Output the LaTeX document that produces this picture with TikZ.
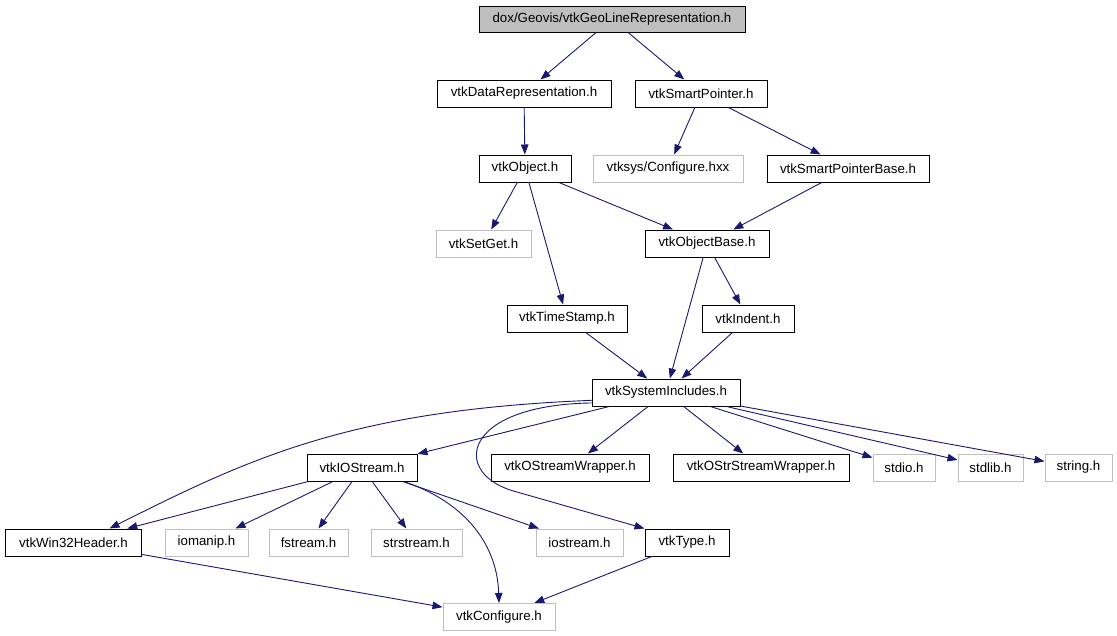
\documentclass[tikz,border=0pt]{standalone}
\usepackage{fontspec}
\setmainfont{Liberation Sans}
\usepackage{tikz}
\usetikzlibrary{arrows,arrows.meta}
\usepackage{xcolor}
\usetikzlibrary{shapes}
\usetikzlibrary{calc}
\definecolor{edgeblue}{RGB}{25,25,112}
\definecolor{sysgray}{RGB}{191,191,191}
\tikzstyle{hdr}=[draw=black,line width=1pt,rectangle,minimum height=27pt,inner sep=0pt,font=\fontsize{13.3}{16}\selectfont]
\tikzstyle{syshdr}=[hdr,draw=sysgray]
\tikzstyle{roothdr}=[hdr,fill=sysgray]
\tikzstyle{dep}=[draw=edgeblue,line width=0.9pt,-{Triangle[length=10pt,width=7.5pt]}]

\begin{document}
\begin{tikzpicture}[x=1pt,y=-1pt]
	\useasboundingbox (0,0) rectangle (1117,635);
	% headers, row by row
	\node[roothdr,minimum width=266pt,minimum height=26pt] (root) at (612,19) {dox/Geovis/vtkGeoLineRepresentation.h};
	\node[hdr,minimum width=174pt] (datarep) at (524,93.5) {vtkDataRepresentation.h};
	\node[hdr,minimum width=132pt] (smartptr) at (701,93.5) {vtkSmartPointer.h};
	\node[hdr,minimum width=92pt] (object) at (525,168.5) {vtkObject.h};
	\node[syshdr,minimum width=150pt] (syscfg) at (668,168.5) {vtksys/Configure.hxx};
	\node[hdr,minimum width=162pt] (smartbase) at (848,168.5) {vtkSmartPointerBase.h};
	\node[syshdr,minimum width=95pt] (setget) at (483.5,243.5) {vtkSetGet.h};
	\node[hdr,minimum width=124pt] (objbase) at (707,243.5) {vtkObjectBase.h};
	\node[hdr,minimum width=120pt] (timestamp) at (567,318.5) {vtkTimeStamp.h};
	\node[hdr,minimum width=92pt] (indent) at (748,318.5) {vtkIndent.h};
	\node[hdr,minimum width=148pt] (sysinc) at (666,392.5) {vtkSystemIncludes.h};
	\node[hdr,minimum width=110pt] (iostreamh) at (362,467.5) {vtkIOStream.h};
	\node[hdr,minimum width=158pt] (ostreamw) at (570,467.5) {vtkOStreamWrapper.h};
	\node[hdr,minimum width=176pt] (ostrstreamw) at (761,467.5) {vtkOStrStreamWrapper.h};
	\node[syshdr,minimum width=62pt] (stdio) at (904,467.5) {stdio.h};
	\node[syshdr,minimum width=65pt] (stdlib) at (990.5,467.5) {stdlib.h};
	\node[syshdr,minimum width=67pt] (string) at (1078.5,467.5) {string.h};
	\node[hdr,minimum width=136pt] (win32) at (73.5,542.5) {vtkWin32Header.h};
	\node[syshdr,minimum width=83pt] (iomanip) at (206.5,542.5) {iomanip.h};
	\node[syshdr,minimum width=79pt] (fstream) at (308.5,542.5) {fstream.h};
	\node[syshdr,minimum width=91pt] (strstream) at (416.5,542.5) {strstream.h};
	\node[syshdr,minimum width=87pt] (iostream) at (579.5,542.5) {iostream.h};
	\node[hdr,minimum width=84pt] (type) at (687,542.5) {vtkType.h};
	\node[syshdr,minimum width=112pt] (configure) at (499,617) {vtkConfigure.h};
	% include edges
	\draw[dep] (root) -- (datarep);
	\draw[dep] (root) -- (smartptr);
	\draw[dep] (datarep) -- (object);
	\draw[dep] (smartptr) -- (syscfg);
	\draw[dep] (smartptr) -- (smartbase);
	\draw[dep] (object) -- (setget);
	\draw[dep] (object) -- (timestamp);
	\draw[dep] (object) -- (objbase);
	\draw[dep] (smartbase) -- (objbase);
	\draw[dep] (objbase) -- (sysinc);
	\draw[dep] (objbase) -- (indent);
	\draw[dep] (timestamp) -- (sysinc);
	\draw[dep] (indent) -- (sysinc);
	\draw[dep] (sysinc) -- (iostreamh);
	\draw[dep] (sysinc) -- (ostreamw);
	\draw[dep] (sysinc) -- (ostrstreamw);
	\draw[dep] (sysinc) -- (stdio);
	\draw[dep] (sysinc) -- (stdlib);
	\draw[dep] (sysinc) -- (string);
	\draw[dep] (sysinc.186) .. controls (350,410) and (250,458) .. ([xshift=36pt]win32.north);
	\draw[dep] (sysinc.188) .. controls (460,405) and (450,475) .. (517,492) -- (type.north west);
	\draw[dep] (iostreamh) -- (win32);
	\draw[dep] (iostreamh) -- (iomanip);
	\draw[dep] (iostreamh) -- (fstream);
	\draw[dep] (iostreamh) -- (strstream);
	\draw[dep] (iostreamh) -- (iostream);
	\draw[dep] ([xshift=-14pt]iostreamh.south east) .. controls (460,500) and (497,540) .. (configure.north);
	\draw[dep] (win32) -- (configure);
	\draw[dep] (type) -- (configure);
\end{tikzpicture}
\end{document}
